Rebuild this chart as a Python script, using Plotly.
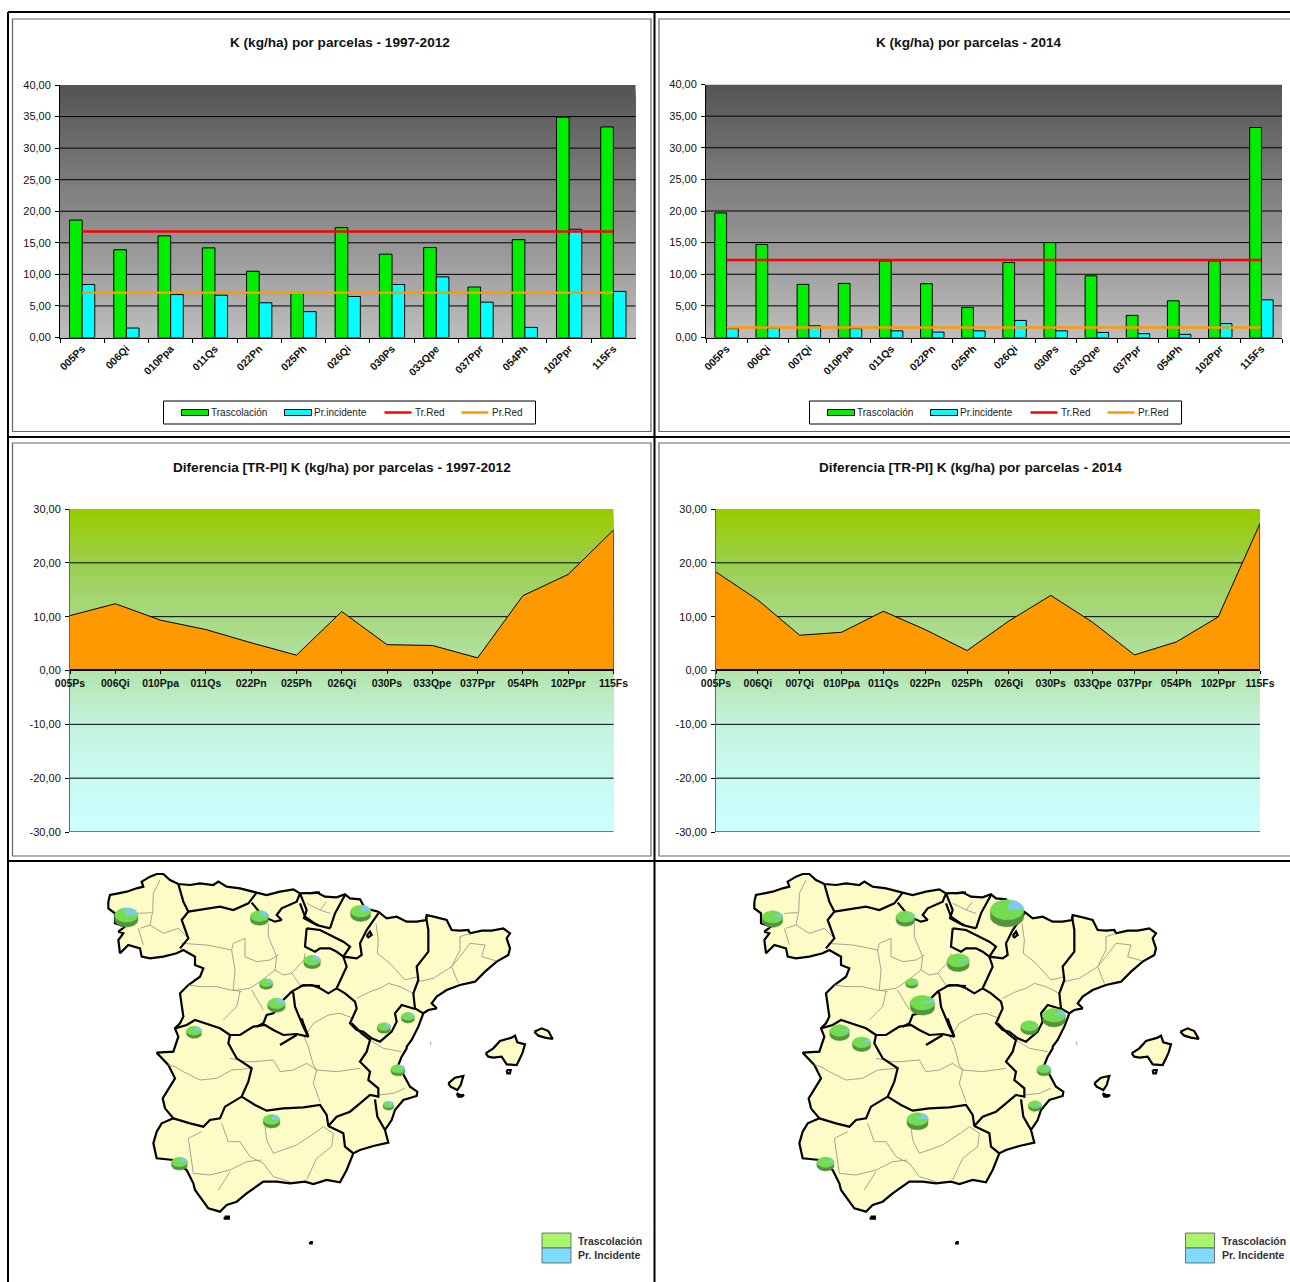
import math
import plotly.graph_objects as go
from plotly.subplots import make_subplots

# --- Data -------------------------------------------------------------------
CATS_LEFT = ["005Ps", "006Qi", "010Ppa", "011Qs", "022Pn", "025Ph", "026Qi", "030Ps",
             "033Qpe", "037Ppr", "054Ph", "102Ppr", "115Fs"]
CATS_RIGHT = ["005Ps", "006Qi", "007Qi", "010Ppa", "011Qs", "022Pn", "025Ph", "026Qi",
              "030Ps", "033Qpe", "037Ppr", "054Ph", "102Ppr", "115Fs"]

TR_LEFT = [18.6, 13.9, 16.1, 14.2, 10.5, 7.07, 17.4, 13.2, 14.25, 8.0, 15.5, 34.9, 33.35]
PI_LEFT = [8.4, 1.5, 6.8, 6.7, 5.5, 4.1, 6.5, 8.4, 9.6, 5.6, 1.6, 17.15, 7.3]
TR_RED_LEFT = 16.8
PI_RED_LEFT = 7.1

TR_RIGHT = [19.7, 14.7, 8.4, 8.55, 12.1, 8.5, 4.75, 11.85, 15.0, 9.75, 3.5, 5.8, 12.1, 33.2]
PI_RIGHT = [1.4, 1.5, 1.85, 1.4, 1.05, 0.85, 1.05, 2.7, 1.05, 0.8, 0.6, 0.5, 2.2, 5.95]
TR_RED_RIGHT = 12.25
PI_RED_RIGHT = 1.6

DIFF_LEFT = [10.2, 12.4, 9.35, 7.6, 5.15, 2.85, 10.95, 4.8, 4.65, 2.35, 13.9, 17.85, 26.1]
DIFF_RIGHT = [18.3, 13.1, 6.55, 7.1, 11.0, 7.6, 3.7, 9.2, 13.95, 8.95, 2.9, 5.3, 9.95, 27.3]

BAR_TICKS = [0, 5, 10, 15, 20, 25, 30, 35, 40]
BAR_TICK_TEXT = ["0,00", "5,00", "10,00", "15,00", "20,00", "25,00", "30,00", "35,00", "40,00"]
DIFF_TICKS = [-30, -20, -10, 0, 10, 20, 30]
DIFF_TICK_TEXT = ["-30,00", "-20,00", "-10,00", "0,00", "10,00", "20,00", "30,00"]


def a(*pts):
    return [(100 + x / 3, 860 + y / 3) for x, y in pts]


def b(*pts):
    return [(300 + x / 3, 860 + y / 3) for x, y in pts]


def c(*pts):
    return [(140 + x / 3, 1020 + y / 3) for x, y in pts]


def d(*pts):
    return [(440 + x / 3, 1015 + y / 3) for x, y in pts]


def w(*pts):
    # crop of the whole panel, wider scale
    return [(x / 2.412, 860 + y / 3) for x, y in pts]


MAINLAND = (
    a((25, 125), (30, 105), (55, 100), (80, 95), (110, 85), (130, 80), (125, 65), (150, 50), (170, 42), (190, 42),
      (210, 60), (235, 72), (270, 75), (300, 70), (340, 75), (355, 65), (380, 80), (420, 85), (470, 98), (500, 105),
      (540, 95), (580, 88), (600, 100), (625, 100), (660, 98))
    + b((25, 100), (50, 97), (75, 110), (110, 112), (135, 103), (150, 115), (180, 118), (195, 145), (235, 155),
        (260, 175), (290, 170), (320, 185), (350, 185), (378, 180), (380, 165), (410, 172), (440, 180), (455, 210),
        (480, 212), (505, 210), (510, 220), (545, 212), (575, 212), (610, 205), (630, 220), (620, 235), (630, 265),
        (625, 285), (590, 305), (555, 335), (525, 365), (480, 375), (440, 390), (410, 410), (395, 430), (410, 445),
        (385, 450), (370, 460), (355, 500), (335, 540), (320, 560))
    + c((800, 85), (785, 110), (775, 135), (795, 175), (810, 200), (832, 215), (830, 228), (790, 240), (765, 270),
        (755, 300), (735, 330), (745, 368), (700, 378), (660, 390), (640, 400), (620, 450), (600, 487), (560, 480),
        (520, 492), (495, 485), (450, 490), (410, 485), (370, 485), (320, 520), (290, 545), (260, 555), (240, 575),
        (205, 565), (180, 530), (165, 510), (160, 490), (140, 450), (100, 420), (50, 415), (40, 370), (50, 335),
        (65, 310), (100, 295), (75, 265), (68, 235), (105, 175), (85, 135), (50, 98), (100, 95), (115, 50))
    + a((225, 505), (240, 490), (250, 470), (240, 400), (265, 375), (300, 350), (310, 325), (285, 315), (285, 290),
        (250, 270), (230, 280), (190, 290), (150, 295), (125, 290), (120, 265), (85, 255), (60, 280), (55, 240),
        (70, 220), (55, 215), (75, 200), (45, 190), (45, 160), (25, 145))
)
ISLANDS = [
    d((137, 115), (160, 100), (180, 78), (215, 68), (225, 62), (232, 82), (255, 88), (248, 112), (240, 130), (230, 150),
      (200, 148), (185, 125), (160, 128), (145, 125)),
    d((283, 50), (305, 40), (325, 48), (338, 72), (315, 68), (295, 62)),
    d((25, 205), (45, 188), (70, 183), (62, 210), (52, 225), (32, 215)),
    d((50, 235), (60, 240), (72, 240), (65, 245), (55, 245)),
    d((200, 165), (212, 165), (210, 175), (202, 175)),
    w((542, 1070), (552, 1070), (552, 1076), (542, 1076)),
    w((748, 1146), (752, 1146), (752, 1150), (748, 1150)),
    b((200, 228), (210, 215), (215, 225), (205, 232)),
]
REGION_BORDERS = [
    a((235, 72), (250, 125), (265, 155), (245, 180), (265, 235), (240, 265)),
    a((265, 155), (300, 150), (360, 140), (400, 150), (445, 130), (470, 98)),
    a((455, 128), (490, 170), (525, 185), (545, 180), (530, 165), (545, 145), (590, 125), (600, 100)),
    a((600, 100), (610, 125), (620, 150), (612, 175), (640, 190), (655, 195)),
    b((135, 105), (105, 160), (90, 205)),
    b((0, 130), (15, 170), (50, 195), (90, 205)),
    b((20, 205), (15, 260), (45, 275), (60, 265), (90, 265), (110, 275), (130, 290), (150, 260), (130, 245), (90, 225),
      (60, 210), (20, 205)),
    b((235, 160), (200, 210), (180, 250), (185, 285), (170, 295), (130, 290), (140, 320), (125, 350), (110, 385),
      (85, 400), (60, 385), (35, 375), (0, 378)),
    a((660, 378), (610, 375), (575, 395), (550, 420), (520, 460), (500, 465), (490, 490), (470, 500)),
    a((225, 505), (260, 495), (285, 480), (330, 495), (360, 505), (390, 525)),
    c((270, 45), (300, 45), (340, 20), (375, 15), (400, 30), (430, 45), (470, 42), (505, 50), (490, 10), (485, -5)),
    a((575, 395), (580, 400), (585, 440), (610, 500), (625, 530)),
    c((470, 45), (440, 62), (420, 75)),
    b((110, 385), (135, 400), (165, 425), (170, 445), (150, 490), (170, 510), (190, 515), (215, 535), (240, 545),
      (275, 515), (290, 485), (285, 460), (305, 435), (345, 447)),
    b((378, 170), (385, 210), (385, 275), (350, 320), (355, 360), (340, 400), (345, 445), (370, 460)),
    c((635, 10), (665, 40), (690, 60), (680, 95), (660, 125), (690, 155), (685, 180), (715, 205), (715, 230), (690, 225),
      (660, 250), (630, 275), (590, 290), (565, 318), (560, 285), (540, 255), (490, 262), (430, 265), (380, 272),
      (345, 255), (305, 230), (255, 260), (240, 295), (210, 300), (190, 320), (150, 310), (100, 295)),
    c((705, 238), (712, 290), (735, 330)),
    c((565, 318), (610, 340), (615, 380), (640, 400)),
    c((270, 45), (265, 70), (290, 115), (335, 145), (325, 185), (305, 230)),
]
PROVINCE_BORDERS = [
    a((180, 60), (160, 100), (158, 155), (150, 195)),
    a((120, 205), (150, 195), (190, 220), (235, 205), (265, 235)),
    a((115, 160), (155, 158)),
    a((115, 205), (130, 255)),
    a((245, 250), (320, 255), (395, 270), (400, 250), (435, 235), (435, 290), (470, 305), (510, 300), (535, 285)),
    a((395, 270), (405, 330), (400, 390), (425, 395)),
    a((505, 190), (505, 230), (530, 290), (525, 330), (550, 345), (575, 340), (600, 375)),
    a((265, 375), (300, 380), (350, 380), (400, 392), (450, 385), (480, 365), (525, 330)),
    a((420, 395), (410, 440), (370, 480)),
    a((455, 390), (490, 450)),
    a((575, 340), (612, 300), (615, 280)),
    b((20, 130), (60, 150), (90, 160)),
    b((80, 125), (60, 150)),
    b((228, 190), (235, 240), (232, 280), (270, 310), (315, 360), (355, 350)),
    b((170, 415), (210, 395), (240, 385), (265, 370), (300, 380), (340, 400)),
    b((510, 220), (480, 230), (480, 270), (455, 320), (475, 370)),
    b((355, 365), (400, 355), (455, 320), (480, 290), (510, 250), (555, 255), (545, 290), (590, 303)),
    b((15, 530), (40, 490), (85, 465), (120, 460), (160, 475)),
    c((490, 45), (505, 80), (520, 135), (530, 150), (520, 190), (540, 245)),
    c((270, 115), (320, 125), (340, 125), (400, 120), (420, 155), (460, 150), (500, 130), (530, 150), (590, 155), (660, 145)),
    c((85, 135), (105, 140), (130, 155), (180, 180), (230, 175), (275, 150), (335, 145)),
    c((690, 60), (730, 85), (785, 95)),
    c((715, 225), (760, 220), (795, 205)),
    c((185, 335), (145, 355), (150, 390), (160, 460), (210, 465), (270, 450), (320, 425), (365, 420)),
    c((245, 310), (265, 365), (300, 365), (330, 410), (370, 430), (400, 470), (450, 485)),
    c((375, 320), (380, 360), (400, 400), (470, 375), (530, 335), (550, 320), (580, 340), (575, 380), (530, 415), (500, 480)),
    c((235, 510), (260, 470), (270, 455)),
]
SPECK = w((1038, 545), (1040, 556))

# Pie sites on the map
PIE_X_LEFT = [126.4, 259.5, 360.7, 312.2, 266.2, 276.5, 408.0, 383.9, 194.0, 398.0, 388.5, 271.6, 179.5]
PIE_Y_LEFT = [917.5, 918.0, 913.3, 962.0, 984.0, 1005.3, 1017.7, 1028.0, 1032.3, 1070.3, 1105.7, 1121.3, 1163.7]
PIE_SIZE_LEFT = [11.7, 9.1, 10.0, 8.3, 6.6, 8.7, 6.6, 6.6, 7.5, 7.0, 5.4, 8.3, 7.9]
PIE_BLUE_LEFT = [0.28, 0.2, 0.22, 0.2, 0.2, 0.22, 0.12, 0.15, 0.18, 0.12, 0.25, 0.2, 0.2]

PIE_X_RIGHT = [126.5, 259.5, 361.1, 312.2, 265.8, 276.5, 408.0, 383.5, 193.6, 215.6, 398.0, 388.9, 271.6, 179.5]
PIE_Y_RIGHT = [919.0, 918.7, 913.3, 962.7, 983.3, 1005.3, 1017.7, 1027.7, 1032.7, 1044.3, 1070.3, 1106.0, 1121.3, 1164.0]
PIE_SIZE_RIGHT = [10.2, 9.4, 16.7, 11.0, 6.1, 12.2, 11.4, 8.6, 9.8, 9.0, 6.9, 6.5, 10.6, 8.6]
PIE_BLUE_RIGHT = [0.1, 0.07, 0.2, 0.05, 0.1, 0.07, 0.1, 0.05, 0.05, 0.12, 0.05, 0.12, 0.15, 0.08]

# --- Constants --------------------------------------------------------------
W, H = 1290, 1282
FONT = "Liberation Sans"
GREEN = "#00EE00"
CYAN = "#00FFFF"
RED = "#FF0000"
ORANGE = "#FF9900"
CREAM = "#FEFCC6"
PIE_FLAT = 0.6    # ellipse height / width of the 3D pies
PIE_DEPTH = 0.42
GREY_STOPS = [(0.0, (85, 85, 85)), (1.0, (188, 188, 188))]
GREEN_STOPS = [(0.0, (153, 204, 0)), (1 / 6, (155, 207, 80)), (2 / 6, (168, 217, 130)),
               (3 / 6, (178, 228, 170)), (4 / 6, (195, 243, 222)), (5 / 6, (200, 250, 240)),
               (1.0, (204, 255, 255))]


def xp(x):
    return x / W


def yp(y):
    return 1 - y / H


def lerp_colour(stops, t):
    for (t0, c0), (t1, c1) in zip(stops, stops[1:]):
        if t <= t1:
            f = (t - t0) / (t1 - t0)
            return "rgb(%d,%d,%d)" % tuple(round(p + (q - p) * f) for p, q in zip(c0, c1))
    return "rgb(%d,%d,%d)" % stops[-1][1]


fig = make_subplots(rows=3, cols=2)


def add_gradient(row, col, stops, low, high, steps=48):
    """Banded plot background: each band runs down to the axis floor so no seams show."""
    for i in range(steps):
        top = high - (high - low) * i / steps
        fig.add_shape(type="rect", xref="x domain", yref="y", x0=0, x1=1, y0=low, y1=top,
                      fillcolor=lerp_colour(stops, i / (steps - 1)), line_width=0, layer="below",
                      row=row, col=col)


def add_grid(row, col, values):
    for v in values:
        fig.add_shape(type="line", xref="x domain", yref="y", x0=0, x1=1, y0=v, y1=v,
                      line=dict(color="black", width=1), layer="below", row=row, col=col)


def bar_panel(col, cats, tr, pi, tr_red, pi_red, box):
    left, right, top, bottom = box
    add_gradient(1, col, GREY_STOPS, 0, 40)
    add_grid(1, col, BAR_TICKS[1:-1])
    fig.add_trace(go.Bar(x=cats, y=tr, name="Trascolación", marker=dict(color=GREEN, line=dict(color="black", width=1))),
                  row=1, col=col)
    fig.add_trace(go.Bar(x=cats, y=pi, name="Pr.incidente", marker=dict(color=CYAN, line=dict(color="black", width=1))),
                  row=1, col=col)
    fig.add_trace(go.Scatter(x=cats, y=[tr_red] * len(cats), mode="lines", name="Tr.Red", line=dict(color=RED, width=2.5)),
                  row=1, col=col)
    fig.add_trace(go.Scatter(x=cats, y=[pi_red] * len(cats), mode="lines", name="Pr.Red", line=dict(color=ORANGE, width=2.5)),
                  row=1, col=col)
    fig.update_xaxes(domain=[xp(left), xp(right)], type="category", tickson="boundaries", ticks="outside", ticklen=4,
                     tickcolor="black", showline=True, linecolor="black", tickangle=-45, showgrid=False,
                     automargin=False, tickfont=dict(family=FONT, size=10.5, color="#111", weight="bold"), row=1, col=col)
    fig.update_yaxes(domain=[yp(bottom), yp(top)], range=[0, 40], tickvals=BAR_TICKS, ticktext=BAR_TICK_TEXT,
                     ticks="outside", ticklen=4, tickcolor="black", showline=True, linecolor="black", showgrid=False,
                     zeroline=False, automargin=False, ticklabelstandoff=2,
                     tickfont=dict(family=FONT, size=11, color="#111"), row=1, col=col)


def diff_panel(col, cats, diff, box, zero_px):
    left, right, top, bottom = box
    add_gradient(2, col, GREEN_STOPS, -30, 30)
    add_grid(2, col, [-30, -20, -10, 10, 20])
    fig.add_trace(go.Scatter(x=cats, y=diff, mode="lines", fill="tozeroy", fillcolor=ORANGE, name="Diferencia",
                             line=dict(color="black", width=1), showlegend=False), row=2, col=col)
    # right edge of the area outline
    fig.add_trace(go.Scatter(x=[cats[-1], cats[-1]], y=[0, diff[-1]], mode="lines", showlegend=False,
                             line=dict(color="black", width=1)), row=2, col=col)
    fig.update_xaxes(domain=[xp(left), xp(right)], type="category", range=[0, len(cats) - 1], anchor="free",
                     position=yp(zero_px), ticks="outside", ticklen=3, tickcolor="black", showline=True,
                     linecolor="black", linewidth=1.5, tickangle=0, showgrid=False, automargin=False,
                     tickfont=dict(family=FONT, size=10.5, color="#111", weight="bold"), row=2, col=col)
    fig.update_yaxes(domain=[yp(bottom), yp(top)], range=[-30, 30], tickvals=DIFF_TICKS, ticktext=DIFF_TICK_TEXT,
                     ticks="outside", ticklen=4, tickcolor="black", showline=True, linecolor="#666", showgrid=False,
                     zeroline=False, automargin=False, ticklabelstandoff=2,
                     tickfont=dict(family=FONT, size=11, color="#111"), row=2, col=col)


def polyline_xy(lines):
    xs, ys = [], []
    for line in lines:
        xs += [p[0] for p in line] + [None]
        ys += [p[1] for p in line] + [None]
    return xs, ys


def wedge(cx, cy, r, a0, a1):
    """Top face of a 3D pie slice; angles in turns, clockwise from 12 o'clock."""
    ry = r * PIE_FLAT
    n = max(3, int(60 * (a1 - a0)))
    xs, ys = [cx], [cy]
    for i in range(n + 1):
        t = 2 * math.pi * (a0 + (a1 - a0) * i / n)
        xs.append(cx + r * math.sin(t))
        ys.append(cy - ry * math.cos(t))
    return xs + [cx, None], ys + [cy, None]


def pie_layers(px, py, sizes, blues):
    side_x, side_y, green_x, green_y, blue_x, blue_y = [], [], [], [], [], []
    for cx, cy0, r, share in zip(px, py, sizes, blues):
        depth = r * PIE_DEPTH
        cy = cy0 - depth / 2
        for i in range(0, 41):
            t = math.pi * i / 40
            side_x.append(cx + r * math.cos(t))
            side_y.append(cy + depth + r * PIE_FLAT * math.sin(t))
        side_x += [cx - r, cx + r, None]
        side_y += [cy, cy, None]
        x, y = wedge(cx, cy, r, 0, 1)
        green_x += x
        green_y += y
        x, y = wedge(cx, cy, r, 0.24 - share, 0.24)
        blue_x += x
        blue_y += y
    return side_x, side_y, green_x, green_y, blue_x, blue_y


def map_panel(col, px, py, sizes, blues, left, right, shift):
    cfg = dict(row=3, col=col)
    x, y = polyline_xy([MAINLAND + MAINLAND[:1]] + [i + i[:1] for i in ISLANDS])
    fig.add_trace(go.Scatter(x=x, y=y, mode="lines", fill="toself", fillcolor=CREAM, showlegend=False,
                             line=dict(color="black", width=2.2)), **cfg)
    x, y = polyline_xy(PROVINCE_BORDERS + [SPECK])
    fig.add_trace(go.Scatter(x=x, y=y, mode="lines", showlegend=False, line=dict(color="#9a9a8c", width=0.9)), **cfg)
    x, y = polyline_xy(REGION_BORDERS)
    fig.add_trace(go.Scatter(x=x, y=y, mode="lines", showlegend=False, line=dict(color="black", width=2.2)), **cfg)
    sx, sy, gx, gy, bx, by = pie_layers(px, py, sizes, blues)
    for xs, ys, colour in ((sx, sy, "#55933F"), (gx, gy, "#74DC50"), (bx, by, "#7CCBEB")):
        fig.add_trace(go.Scatter(x=xs, y=ys, mode="lines", fill="toself", fillcolor=colour, showlegend=False,
                                 line=dict(color=colour, width=0.5)), **cfg)
    # axis units are pixels of the left panel, the right map is the same drawing moved along
    fig.update_xaxes(domain=[xp(left), xp(right)], range=[left - shift, right - shift], visible=False, **cfg)
    fig.update_yaxes(domain=[yp(1282), yp(860)], range=[1282, 860], visible=False, **cfg)


def legend_box(x0, y0, x1, y1):
    fig.add_shape(type="rect", xref="paper", yref="paper", x0=xp(x0), x1=xp(x1), y0=yp(y0), y1=yp(y1),
                  fillcolor="white", line=dict(color="black", width=1))
    return (y0 + y1) / 2


def legend_text(x, y, text, size=10, color="#222", bold=False):
    fig.add_annotation(x=xp(x), y=yp(y), xref="paper", yref="paper", text=text, showarrow=False, xanchor="left",
                       yanchor="middle", xshift=-1, font=dict(family=FONT, size=size, color=color,
                                                              weight="bold" if bold else "normal"))


def bar_legend(x0):
    """x0 = left of the legend box; all offsets as in the left panel."""
    ym = legend_box(x0, 401, x0 + 372, 424)
    for dx, colour in ((18, GREEN), (121, CYAN)):
        fig.add_shape(type="rect", xref="paper", yref="paper", x0=xp(x0 + dx), x1=xp(x0 + dx + 27), y0=yp(ym - 3),
                      y1=yp(ym + 3), fillcolor=colour, line=dict(color="black", width=1))
    for dx, colour in ((221, RED), (298, ORANGE)):
        fig.add_shape(type="line", xref="paper", yref="paper", x0=xp(x0 + dx), x1=xp(x0 + dx + 27), y0=yp(ym), y1=yp(ym),
                      line=dict(color=colour, width=2.5))
    for dx, t in ((46, "Trascolación"), (149, "Pr.incidente"), (250, "Tr.Red"), (327, "Pr.Red")):
        legend_text(x0 + dx, ym, t)


def map_legend(x0):
    for y0, y1, colour in ((1233, 1248, "#A8F56C"), (1248, 1263, "#7FDCFF")):
        fig.add_shape(type="rect", xref="paper", yref="paper", x0=xp(x0), x1=xp(x0 + 29), y0=yp(y0), y1=yp(y1),
                      fillcolor=colour, line=dict(color="#555", width=0.8))
    legend_text(x0 + 35, 1240.5, "Trascolación", size=10.5, color="#333", bold=True)
    legend_text(x0 + 35, 1255, "Pr. Incidente", size=10.5, color="#333", bold=True)


def title(x, y, text):
    fig.add_annotation(x=xp(x), y=yp(y), xref="paper", yref="paper", text=text, showarrow=False, xanchor="center",
                       yanchor="middle", font=dict(family=FONT, size=13.6, color="#111", weight="bold"))


def frame(x0, y0, x1, y1):
    fig.add_shape(type="rect", xref="paper", yref="paper", x0=xp(x0), x1=xp(x1), y0=yp(y0), y1=yp(y1),
                  line=dict(color="#666", width=1.2), layer="below")


def rule(x0, y0, x1, y1):
    fig.add_shape(type="line", xref="paper", yref="paper", x0=xp(x0), x1=xp(x1), y0=yp(y0), y1=yp(y1),
                  line=dict(color="black", width=2))


# --- Panels -----------------------------------------------------------------
bar_panel(1, CATS_LEFT, TR_LEFT, PI_LEFT, TR_RED_LEFT, PI_RED_LEFT, (60, 635.5, 85, 337.5))
bar_panel(2, CATS_RIGHT, TR_RIGHT, PI_RIGHT, TR_RED_RIGHT, PI_RED_RIGHT, (706, 1282, 84.5, 337.5))
diff_panel(1, CATS_LEFT, DIFF_LEFT, (70, 613.5, 509, 832), 670.3)
diff_panel(2, CATS_RIGHT, DIFF_RIGHT, (716, 1260, 509, 832), 670.3)
map_panel(1, PIE_X_LEFT, PIE_Y_LEFT, PIE_SIZE_LEFT, PIE_BLUE_LEFT, 0, 650, 0)
map_panel(2, PIE_X_RIGHT, PIE_Y_RIGHT, PIE_SIZE_RIGHT, PIE_BLUE_RIGHT, 650, 1290, 646)

frame(12.5, 19, 651, 431.5)
frame(659, 19, 1295, 431.5)
frame(12.5, 443, 651, 856)
frame(659, 443, 1295, 856)

rule(8, 12, 1290, 12)
rule(8, 437, 1290, 437)
rule(8, 861, 1290, 861)
rule(8, 12, 8, 1282)
rule(654.5, 12, 654.5, 1282)

title(340, 42.3, "K (kg/ha) por parcelas - 1997-2012")
title(969, 42.3, "K (kg/ha) por parcelas - 2014")
title(341.5, 467.3, "Diferencia [TR-PI] K (kg/ha) por parcelas - 1997-2012")
title(970, 467.3, "Diferencia [TR-PI] K (kg/ha) por parcelas - 2014")

bar_legend(163.5)
bar_legend(809.5)
map_legend(542)
map_legend(1185.5)

fig.update_layout(width=W, height=H, margin=dict(l=0, r=0, t=0, b=0), barmode="group", bargap=0.43, bargroupgap=0,
                  showlegend=False, paper_bgcolor="white", plot_bgcolor="rgba(0,0,0,0)",
                  font=dict(family=FONT))

fig.write_html("out.html", config=dict(displayModeBar=False),
               post_script="document.body.style.margin='0';document.body.style.overflow='hidden';")
